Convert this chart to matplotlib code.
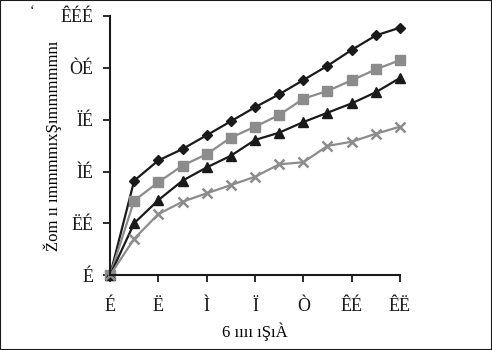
import matplotlib.pyplot as plt
from matplotlib.patches import Rectangle

# time points and the four series
x = [0, 1, 2, 3, 4, 5, 6, 7, 8, 9, 10, 11, 12]
diamond = [0, 36.5, 44.3, 48.7, 54.0, 59.4, 64.8, 69.8, 75.3, 80.8, 86.9, 92.5, 95.5]
square = [0, 28.8, 35.9, 42.3, 46.7, 53.1, 57.3, 61.8, 68.1, 71.1, 75.2, 79.4, 83.0]
triangle = [0, 20.1, 29.0, 36.5, 41.6, 46.1, 52.2, 55.0, 59.1, 62.7, 66.3, 70.6, 76.1]
cross = [0, 14.1, 23.6, 28.4, 31.6, 34.8, 38.0, 42.8, 43.6, 49.9, 51.5, 54.6, 57.3]

xticks = [0, 2, 4, 6, 8, 10, 12]
xticklabels = ["É", "Ë", "Ì", "Ï", "Ò", "ÊÉ", "ÊË"]
yticks = [0, 20, 40, 60, 80, 100]
yticklabels = ["É", "ËÉ", "ÌÉ", "ÏÉ", "ÒÉ", "ÊÉÉ"]

black = "#1a1a1a"
grey = "#8c8c8c"

plt.rcParams['font.family'] = ['Liberation Serif', 'DejaVu Serif']

fig = plt.figure(figsize=(4.92, 3.5), dpi=100)
ax = fig.add_axes([0.2236, 0.2134, 0.5894, 0.7409])

ax.plot(x, diamond, color=black, lw=1.6, marker='D', ms=5.5, clip_on=False)
ax.plot(x, square, color=grey, lw=1.6, marker='s', ms=6.5, clip_on=False)
ax.plot(x, triangle, color=black, lw=1.6, marker='^', ms=6.5, clip_on=False)
ax.plot(x, cross, color=grey, lw=1.6, marker='x', ms=6.5, mew=1.8, clip_on=False)

ax.set_xlim(0, 12)
ax.set_ylim(0, 100)
ax.set_xticks(xticks)
ax.set_xticklabels(xticklabels)
ax.set_yticks(yticks)
ax.set_yticklabels(yticklabels)

for s in ['top', 'right']:
    ax.spines[s].set_visible(False)
for s in ['left', 'bottom']:
    ax.spines[s].set_linewidth(1.5)
    ax.spines[s].set_color(black)
ax.tick_params(axis='both', direction='out', length=5, width=1.3, colors=black, labelsize=13)
ax.tick_params(axis='x', pad=11)
ax.tick_params(axis='y', pad=7)

ax.set_xlabel("6 ıııı ıŞıÀ", fontsize=12, labelpad=6)
ax.set_ylabel("Žom ıı ımmmmıxŞımmmmmnı", fontsize=12)
ax.yaxis.set_label_coords(-0.165, 0.5)
fig.text(0.06, 0.985, "ʻ", fontsize=10, va='top')

fig.patches.append(Rectangle((0, 0), 1, 1, transform=fig.transFigure,
                             fill=False, edgecolor=black, lw=1.5))

plt.savefig("out.png", dpi=100)
